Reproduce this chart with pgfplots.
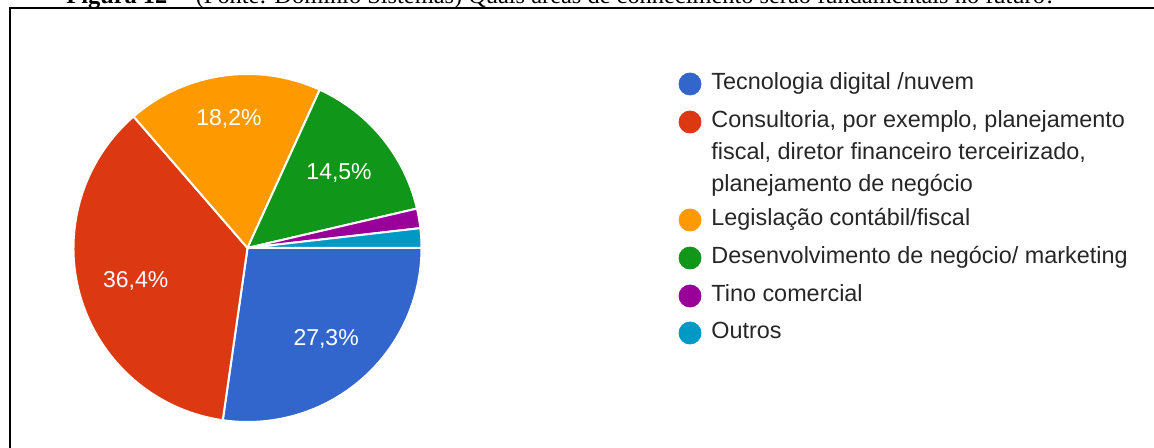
\documentclass[border=0pt]{standalone}
\usepackage{pgfplots}
\pgfplotsset{compat=1.18}
\usetikzlibrary{calc}
\usepackage{fontspec}
\setmainfont{Liberation Sans}
\newfontfamily\serif{Liberation Serif}

\definecolor{gblue}{HTML}{3366CC}
\definecolor{gred}{HTML}{DC3912}
\definecolor{gorange}{HTML}{FF9900}
\definecolor{ggreen}{HTML}{109618}
\definecolor{gpurple}{HTML}{990099}
\definecolor{gcyan}{HTML}{0099C6}

\begin{document}
\begin{tikzpicture}
\begin{axis}[
    width=577pt, height=224pt, scale only axis,
    xmin=0, xmax=1154, ymin=0, ymax=448,
    y dir=reverse,
    hide axis, clip=false,
]
    \coordinate (c) at (axis cs:247.5,248);

    % frame and clipped caption
    \draw[line width=1.1pt] (axis cs:10.2,460) -- (axis cs:10.2,8.3) -- (axis cs:1160,8.3);
    \node[anchor=base west, inner sep=0pt, font=\serif\fontsize{12.2}{14}\selectfont]
        at (axis cs:66,4) {\textbf{Figura 12} -- (Fonte: Domínio Sistemas) Quais áreas de conhecimento serão fundamentais no futuro?};

    % legend
    \addplot[only marks, mark=*, mark size=5.5pt, gblue, mark options={draw=gblue}] coordinates {(690,84)};
    \addplot[only marks, mark=*, mark size=5.5pt, gred, mark options={draw=gred}] coordinates {(690,122)};
    \addplot[only marks, mark=*, mark size=5.5pt, gorange, mark options={draw=gorange}] coordinates {(690,220)};
    \addplot[only marks, mark=*, mark size=5.5pt, ggreen, mark options={draw=ggreen}] coordinates {(690,258)};
    \addplot[only marks, mark=*, mark size=5.5pt, gpurple, mark options={draw=gpurple}] coordinates {(690,296)};
    \addplot[only marks, mark=*, mark size=5.5pt, gcyan, mark options={draw=gcyan}] coordinates {(690,333)};

    \begin{scope}[every node/.style={anchor=mid west, inner sep=0pt, text=black!85,
        font=\fontsize{11.7}{16}\selectfont}]
    \node at (axis cs:711,84) {Tecnologia digital /nuvem};
    \node at (axis cs:711,122) {Consultoria, por exemplo, planejamento};
    \node at (axis cs:711,154) {fiscal, diretor financeiro terceirizado,};
    \node at (axis cs:711,186) {planejamento de negócio};
    \node at (axis cs:711,220) {Legislação contábil/fiscal};
    \node at (axis cs:711,258) {Desenvolvimento de negócio/ marketing};
    \node at (axis cs:711,296) {Tino comercial};
    \node at (axis cs:711,333) {Outros};
    \end{scope}
\end{axis}

% pie: answers out of 55, drawn clockwise from 3 o'clock (radius 174 units = 87pt)
\def\startangle{0}
\foreach \val/\col/\lab/\lr in {15/gblue/27{,}3\%/0.69, 20/gred/36{,}4\%/0.67,
    10/gorange/18{,}2\%/0.75, 8/ggreen/14{,}5\%/0.68, 1/gpurple//0.7, 1/gcyan//0.7} {
    \pgfmathsetmacro\endangle{\startangle - \val/55*360}
    \pgfmathsetmacro\midangle{(\startangle + \endangle)/2}
    \fill[\col, draw=white, line width=1pt, line join=round]
        (c) -- ++(\startangle:87pt) arc[start angle=\startangle, end angle=\endangle, radius=87pt] -- cycle;
    \node[text=white, font=\fontsize{11.5}{13}\selectfont] at ($(c)+(\midangle:{\lr*87pt})$) {\lab};
    \xdef\startangle{\endangle}
}

\pgfresetboundingbox
\path[use as bounding box] (current axis.south west) rectangle (current axis.north east);
\end{tikzpicture}
\end{document}
